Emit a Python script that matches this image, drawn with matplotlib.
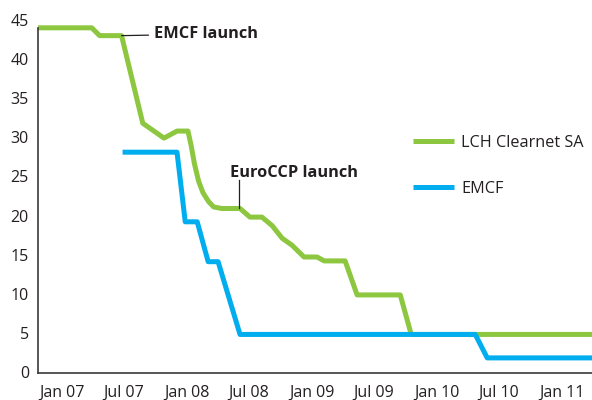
import pandas as pd
import matplotlib
matplotlib.use("Agg")
import matplotlib.pyplot as plt

plt.rcParams["font.family"] = ["Open Sans", "DejaVu Sans"]

# fee per trade
lch_dates = ["2006-10-20", "2007-03-30", "2007-04-22", "2007-06-25", "2007-08-26",
             "2007-10-27", "2007-12-04", "2008-01-05", "2008-01-14", "2008-01-24",
             "2008-02-05", "2008-02-18", "2008-03-05", "2008-03-20", "2008-04-13",
             "2008-06-05", "2008-07-04", "2008-08-08", "2008-09-07", "2008-10-06",
             "2008-11-04", "2008-12-09", "2009-01-16", "2009-02-06", "2009-04-08",
             "2009-05-13", "2009-09-16", "2009-10-18", "2011-03-30"]
lch_values = [44, 44, 43, 43, 31.8, 29.9, 30.8, 30.8, 29.0, 26.6, 24.4, 22.9, 21.8, 21.1,
              20.9, 20.9, 19.8, 19.8, 18.7, 17.1, 16.2, 14.7, 14.7, 14.2, 14.2, 9.85, 9.85,
              4.8, 4.8]

emcf_dates = ["2007-06-28", "2007-12-04", "2007-12-28", "2008-02-01", "2008-03-04",
              "2008-04-02", "2008-06-05", "2010-04-23", "2010-05-28", "2011-03-30"]
emcf_values = [28.1, 28.1, 19.2, 19.2, 14.1, 14.1, 4.8, 4.8, 1.8, 1.8]

tick_dates = ["2007-01-01", "2007-07-01", "2008-01-01", "2008-07-01", "2009-01-01",
              "2009-07-01", "2010-01-01", "2010-07-01", "2011-01-01"]
tick_labels = ["Jan 07", "Jul 07", "Jan 08", "Jul 08", "Jan 09", "Jul 09", "Jan 10", "Jul 10", "Jan 11"]

green = "#8dc63f"
blue = "#00aeef"
text_col = "#231f20"

fig = plt.figure(figsize=(5.92, 4), dpi=100)
ax = fig.add_axes([38 / 592, 27 / 400, 1 - 38 / 592, 353 / 400])

lch_x = pd.to_datetime(lch_dates)
emcf_x = pd.to_datetime(emcf_dates)
ax.plot(lch_x, lch_values, color=green, lw=3.6, solid_capstyle="butt", label="LCH Clearnet SA")
ax.plot(emcf_x, emcf_values, color=blue, lw=3.6, solid_capstyle="butt", label="EMCF")

ax.set_xlim(pd.Timestamp("2006-10-24"), pd.Timestamp("2011-03-30"))
ax.set_ylim(-0.13, 45)
ax.set_yticks(range(0, 46, 5))
ax.set_xticks(pd.to_datetime(tick_dates))
ax.set_xticklabels(tick_labels)
ax.tick_params(length=0, labelsize=11.5, colors=text_col)
ax.tick_params(axis="y", pad=6.5)
ax.tick_params(axis="x", pad=8.5)

for s in ["top", "right"]:
    ax.spines[s].set_visible(False)
for s in ["left", "bottom"]:
    ax.spines[s].set_color("#3a3a3a")
    ax.spines[s].set_linewidth(1.2)
ax.spines["left"].set_bounds(-0.13, 44)

# launch markers
ax.annotate("EMCF launch", xy=(pd.Timestamp("2007-06-25"), 43),
            xytext=(pd.Timestamp("2007-09-28"), 43.2), ha="left", va="center",
            fontsize=11.8, fontweight="bold", color=text_col,
            arrowprops=dict(arrowstyle="-", color=text_col, lw=0.9, shrinkA=2, shrinkB=0))
ax.plot([pd.Timestamp("2008-06-02")] * 2, [21, 24.6], color=text_col, lw=0.9)
ax.text(pd.Timestamp("2008-05-07"), 25.5, "EuroCCP launch", ha="left", va="center",
        fontsize=11.8, fontweight="bold", color=text_col)

leg = ax.legend(loc="upper left", bbox_to_anchor=(413 / 592, 1 - 135 / 400),
                bbox_transform=fig.transFigure, frameon=False, fontsize=11.7,
                handlelength=2.5, handletextpad=0.45, labelspacing=1.85, borderpad=0,
                borderaxespad=0)
for t in leg.get_texts():
    t.set_color(text_col)

fig.savefig("out.png", dpi=100)
